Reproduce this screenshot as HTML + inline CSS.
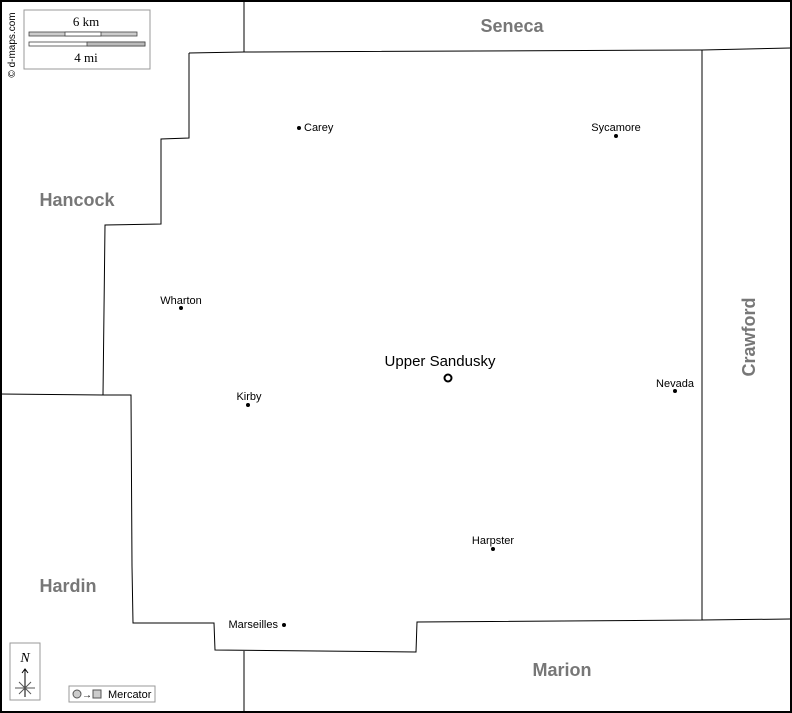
<!DOCTYPE html>
<html><head><meta charset="utf-8"><style>
body{margin:0;background:#fff}
svg{display:block}
.s{font-family:"Liberation Sans",sans-serif}
.r{font-family:"Liberation Serif",serif}
</style></head><body>
<svg width="792" height="713" viewBox="0 0 792 713" xmlns="http://www.w3.org/2000/svg">
<rect x="0" y="0" width="792" height="713" fill="#fff"/>
<g fill="none" stroke="#000" stroke-width="1">
<polyline points="189,53 244,52 702,50 790,48"/>
<line x1="244" y1="0" x2="244" y2="52"/>
<polyline points="702,50 702,620 417,622 416,652 215,650 214,623 133,623 132,566 131,395 103,395 105,225 161,224 161,139 189,138 189,53"/>
<line x1="702" y1="620" x2="790" y2="619"/>
<line x1="0" y1="394" x2="103" y2="395"/>
<line x1="244" y1="651" x2="244" y2="713"/>
</g>
<rect x="1" y="1" width="790" height="711" fill="none" stroke="#000" stroke-width="2"/>
<g class="s" fill="#777" font-weight="bold" font-size="18">
<text x="512" y="32" text-anchor="middle">Seneca</text>
<text x="77" y="206" text-anchor="middle">Hancock</text>
<text x="68" y="592" text-anchor="middle">Hardin</text>
<text x="562" y="676" text-anchor="middle">Marion</text>
<text transform="translate(755,337) rotate(-90)" text-anchor="middle">Crawford</text>
</g>
<g class="s" fill="#000" font-size="11">
<circle cx="299" cy="128" r="2"/><text x="304" y="131">Carey</text>
<circle cx="616" cy="136" r="2"/><text x="616" y="131" text-anchor="middle">Sycamore</text>
<circle cx="181" cy="308" r="2"/><text x="181" y="304" text-anchor="middle">Wharton</text>
<circle cx="248" cy="405" r="2"/><text x="249" y="400" text-anchor="middle">Kirby</text>
<circle cx="675" cy="391" r="2"/><text x="675" y="387" text-anchor="middle">Nevada</text>
<circle cx="493" cy="549" r="2"/><text x="493" y="544" text-anchor="middle">Harpster</text>
<circle cx="284" cy="625" r="2"/><text x="278" y="628" text-anchor="end">Marseilles</text>
<circle cx="448" cy="378" r="3.5" fill="none" stroke="#000" stroke-width="2"/>
<text x="440" y="366" font-size="15" text-anchor="middle">Upper Sandusky</text>
</g>
<rect x="24" y="10" width="126" height="59" fill="#fff" stroke="#999"/>
<text class="r" x="86" y="26" font-size="13" text-anchor="middle">6 km</text>
<rect x="29" y="32" width="108" height="4" fill="#ccc" stroke="#444" stroke-width="0.8"/>
<rect x="65" y="32" width="36" height="4" fill="#fff" stroke="#444" stroke-width="0.8"/>
<rect x="29" y="42" width="116" height="4" fill="#fff" stroke="#444" stroke-width="0.8"/>
<rect x="87" y="42" width="58" height="4" fill="#bbb" stroke="#444" stroke-width="0.8"/>
<text class="r" x="86" y="62" font-size="13" text-anchor="middle">4 mi</text>
<text class="s" transform="translate(15,45) rotate(-90)" font-size="10" text-anchor="middle">© d-maps.com</text>
<rect x="10" y="643" width="30" height="57" fill="#fff" stroke="#999"/>
<text class="r" x="25" y="662" font-style="italic" font-size="14" text-anchor="middle">N</text>
<g stroke="#000" stroke-width="1" fill="none">
<line x1="25" y1="669" x2="25" y2="697"/>
<polyline points="22,673 25,669 28,673"/>
<line x1="15" y1="688" x2="35" y2="688" stroke="#555"/>
<line x1="19" y1="682" x2="31" y2="694" stroke="#555"/>
<line x1="31" y1="682" x2="19" y2="694" stroke="#555"/>
</g>
<rect x="69" y="686" width="86" height="16" fill="#fff" stroke="#999"/>
<circle cx="77" cy="694" r="4" fill="#ccc" stroke="#555"/>
<text class="s" x="82" y="698" font-size="10">→</text>
<rect x="93" y="690" width="8" height="8" fill="#ccc" stroke="#555"/>
<text class="s" x="108" y="698" font-size="11">Mercator</text>
</svg>
</body></html>
